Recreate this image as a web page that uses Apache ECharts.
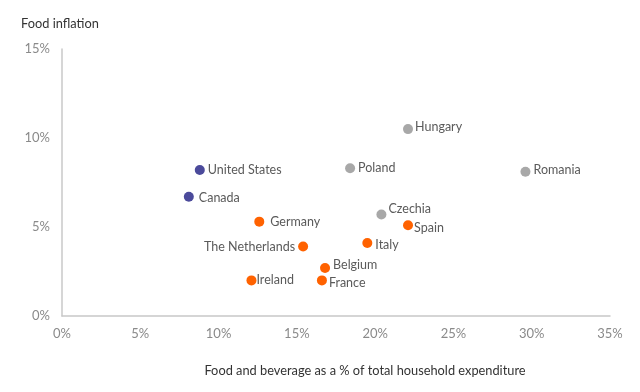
<!DOCTYPE html>
<html>
<head>
<meta charset="utf-8">
<script src="https://cdn.jsdelivr.net/npm/echarts@6/dist/echarts.min.js"></script>
<style>html,body{margin:0;padding:0;background:#fff}#c{width:640px;height:392px}</style>
</head>
<body>
<div id="c"></div>
<script>
// Data
const names = ['United States','Canada','Hungary','Poland','Romania','Czechia','Spain','Italy','Belgium','France','Germany','The Netherlands','Ireland'];
const shareX = [8.8, 8.1, 22.1, 18.4, 29.6, 20.4, 22.1, 19.5, 16.8, 16.6, 12.6, 15.4, 12.1];
const inflationY = [8.2, 6.7, 10.5, 8.3, 8.1, 5.7, 5.1, 4.1, 2.7, 2.0, 5.3, 3.9, 2.0];
const group = ['na','na','cee','cee','cee','cee','eu','eu','eu','eu','eu','eu','eu'];
const xTicks = ['0%','5%','10%','15%','20%','25%','30%','35%'];
const yTicks = ['0%','5%','10%','15%'];

// Label placement (styling)
const labelPlace = {
  'United States': {pos:'right', dist:3, off:[0,0]},
  'Canada': {pos:'right', dist:5, off:[0,1]},
  'Hungary': {pos:'right', dist:2, off:[0,-2]},
  'Poland': {pos:'right', dist:3, off:[0,0]},
  'Romania': {pos:'right', dist:3, off:[0,-2]},
  'Czechia': {pos:'right', dist:2, off:[0,-6]},
  'Spain': {pos:'right', dist:1, off:[0,3]},
  'Italy': {pos:'right', dist:3, off:[0,2]},
  'Belgium': {pos:'right', dist:3, off:[0,-3]},
  'France': {pos:'right', dist:2, off:[0,3]},
  'Germany': {pos:'right', dist:6, off:[0,0]},
  'The Netherlands': {pos:'left', dist:3, off:[0,0]},
  'Ireland': {pos:'right', dist:0, off:[0,0]}
};
const colors = {na:'#4b4a9b', cee:'#a8a8a8', eu:'#ff6200'};

function seriesFor(g){
  const data = [];
  names.forEach((n,i)=>{
    if(group[i]!==g) return;
    const lp = labelPlace[n];
    data.push({name:n, value:[shareX[i], inflationY[i]],
      label:{position:lp.pos, distance:lp.dist, offset:lp.off}});
  });
  return {
    type:'scatter', symbolSize:10, data,
    itemStyle:{color:colors[g], opacity:1},
    label:{show:true, formatter:'{b}', color:'#5a5a5a', fontSize:12.5, fontFamily:'Lato'},
    emphasis:{disabled:true}
  };
}

const chart = echarts.init(document.getElementById('c'), null, {renderer:'canvas'});
chart.setOption({
  animation:false,
  textStyle:{fontFamily:'Lato'},
  grid:{left:62, right:30, top:49, bottom:76, containLabel:false},
  title:{text:'Food inflation', left:16, top:12, textStyle:{fontSize:12.8, fontWeight:'normal', color:'#333', fontFamily:'Lato'}},
  xAxis:{type:'value', min:0, max:35, interval:5,
    axisLine:{show:true, lineStyle:{color:'#c8c8c8', width:1.5}},
    axisTick:{show:false}, splitLine:{show:false},
    axisLabel:{color:'#8a8a8a', fontSize:13, margin:11, formatter:(v)=>xTicks[Math.round(v/5)]},
    name:'Food and beverage as a % of total household expenditure', nameLocation:'middle', nameGap:48,
    nameTextStyle:{color:'#333', fontSize:12.8, padding:[0,0,0,58]}
  },
  yAxis:{type:'value', min:0, max:15, interval:5,
    axisLine:{show:true, lineStyle:{color:'#c8c8c8', width:1.5}},
    axisTick:{show:false}, splitLine:{show:false},
    axisLabel:{color:'#8a8a8a', fontSize:13, margin:12, formatter:(v)=>yTicks[Math.round(v/5)]}
  },
  series:[seriesFor('na'), seriesFor('cee'), seriesFor('eu')]
});
</script>
</body>
</html>
